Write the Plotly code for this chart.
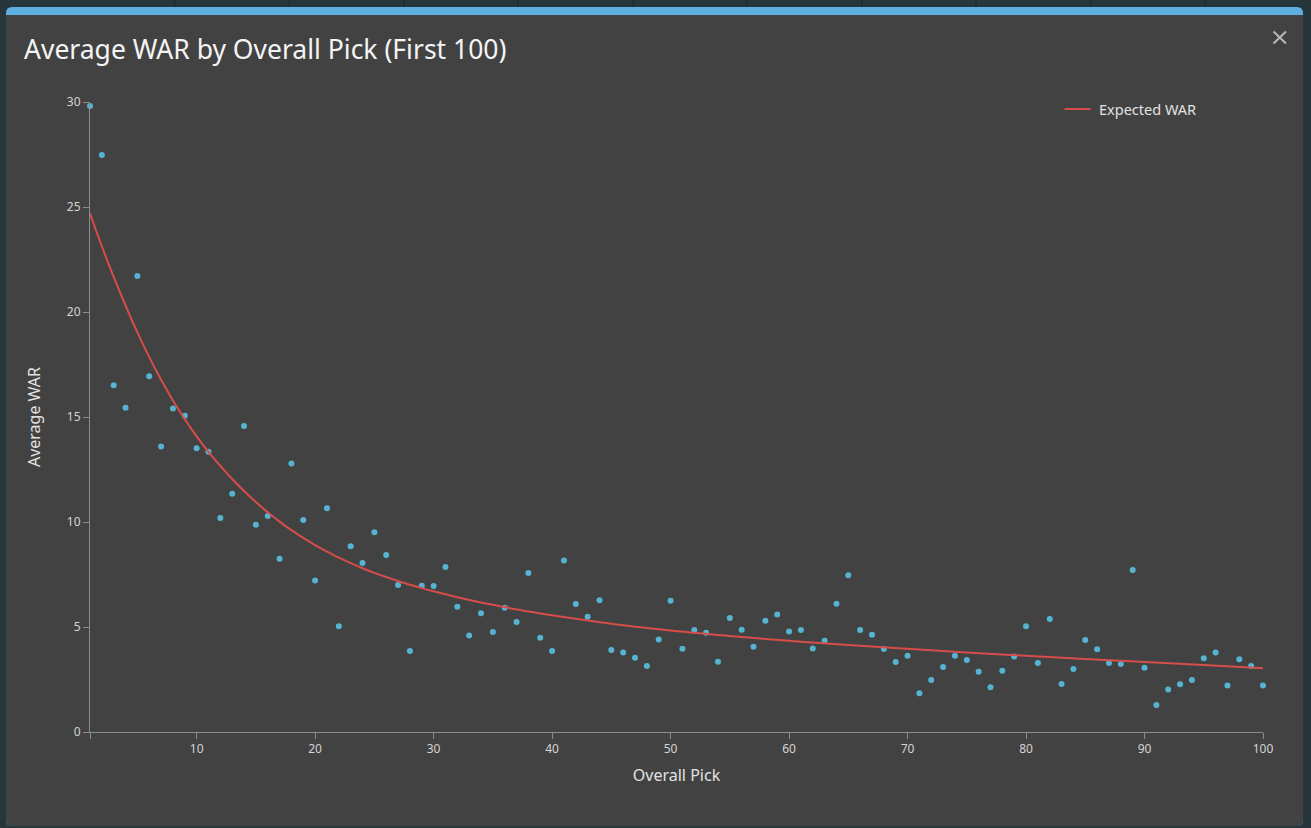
import plotly.graph_objects as go

# ---------------- data ----------------
picks = list(range(1, 101))
avg_war = [
    29.81, 27.48, 16.51, 15.44, 21.71, 16.94, 13.59, 15.41, 15.06, 13.51,
    13.35, 10.19, 11.35, 14.57, 9.87, 10.29, 8.25, 12.79, 10.10, 7.22,
    10.65, 5.03, 8.84, 8.05, 9.51, 8.43, 7.00, 3.86, 6.97, 6.95,
    7.86, 5.97, 4.59, 5.65, 4.76, 5.92, 5.24, 7.57, 4.49, 3.86,
    8.17, 6.10, 5.49, 6.27, 3.90, 3.79, 3.54, 3.14, 4.41, 6.25,
    3.97, 4.86, 4.73, 3.35, 5.43, 4.87, 4.06, 5.30, 5.59, 4.79,
    4.86, 3.98, 4.35, 6.11, 7.46, 4.86, 4.63, 3.95, 3.33, 3.63,
    1.84, 2.48, 3.10, 3.63, 3.43, 2.87, 2.13, 2.92, 3.59, 5.03,
    3.29, 5.38, 2.29, 3.00, 4.38, 3.94, 3.29, 3.24, 7.71, 3.06,
    1.29, 2.02, 2.27, 2.48, 3.51, 3.79, 2.22, 3.46, 3.14, 2.22,
]

expected_picks = [1, 2, 3, 4, 5, 6, 7, 8, 9, 10, 11, 12, 13, 14, 15, 16, 17, 18,
                  19, 20, 21, 22, 23, 24, 25, 26, 27, 28, 29, 30, 32, 34, 36,
                  38, 40, 45, 50, 55, 60, 65, 70, 75, 80, 85, 90, 95, 100]
expected_war = [24.70, 23.13, 21.67, 20.31, 19.03, 17.85, 16.77, 15.79, 14.89,
                14.08, 13.34, 12.67, 12.05, 11.48, 10.95, 10.46, 10.02, 9.61,
                9.24, 8.90, 8.59, 8.30, 8.04, 7.80, 7.58, 7.38, 7.19, 7.01,
                6.85, 6.70, 6.42, 6.17, 5.95, 5.74, 5.56, 5.16, 4.83, 4.57,
                4.34, 4.14, 3.96, 3.79, 3.63, 3.48, 3.33, 3.19, 3.04]

x_ticks = [1, 10, 20, 30, 40, 50, 60, 70, 80, 90, 100]
x_tick_text = ["", "10", "20", "30", "40", "50", "60", "70", "80", "90", "100"]
y_ticks = [0, 5, 10, 15, 20, 25, 30]

title_text = "Average WAR by Overall Pick (First 100)"
legend_text = "Expected WAR"
x_title = "Overall Pick"
y_title = "Average WAR"

# ---------------- layout geometry ----------------
W, H = 1311, 828
ML, MR, MT, MB = 90, 48, 102, 96
PW, PH = W - ML - MR, H - MT - MB


def px(x):
    return (x - ML) / PW


def py(y):
    return (H - MB - y) / PH


def rounded(x0, y0, x1, y1, r_top, r_bot):
    pts = []
    pts.append(f"M{px(x0 + r_top)},{py(y0)}")
    pts.append(f"L{px(x1 - r_top)},{py(y0)}")
    pts.append(f"Q{px(x1)},{py(y0)} {px(x1)},{py(y0 + r_top)}")
    pts.append(f"L{px(x1)},{py(y1 - r_bot)}")
    pts.append(f"Q{px(x1)},{py(y1)} {px(x1 - r_bot)},{py(y1)}")
    pts.append(f"L{px(x0 + r_bot)},{py(y1)}")
    pts.append(f"Q{px(x0)},{py(y1)} {px(x0)},{py(y1 - r_bot)}")
    pts.append(f"L{px(x0)},{py(y0 + r_top)}")
    pts.append(f"Q{px(x0)},{py(y0)} {px(x0 + r_top)},{py(y0)}")
    pts.append("Z")
    return " ".join(pts)


FONT = "Noto Sans"
BG = "#27363a"
PANEL = "#424242"
BLUE = "#5eaee0"
AXIS = "#8c8c8c"
DOT = "#56b4d3"
RED = "#d64d4a"

shapes = []
# tab separators in the strip above the panel
for sx in [175, 289.5, 404, 518, 633, 747, 862, 976, 1091, 1205]:
    shapes.append(dict(type="line", xref="paper", yref="paper",
                       x0=px(sx), x1=px(sx), y0=py(0), y1=py(7),
                       line=dict(color="#1d292c", width=1), layer="below"))
# panel with blue top strip
shapes.append(dict(type="path", xref="paper", yref="paper",
                   path=rounded(6, 7, 1303, 826, 6, 6),
                   fillcolor=BLUE, line=dict(width=0), layer="below"))
shapes.append(dict(type="path", xref="paper", yref="paper",
                   path=rounded(6, 15, 1303, 826, 0, 6),
                   fillcolor=PANEL, line=dict(width=0), layer="below"))
# close icon
shapes.append(dict(type="line", xref="paper", yref="paper",
                   x0=px(1273.5), y0=py(31.5), x1=px(1286), y1=py(43.5),
                   line=dict(color="#b9b9b9", width=2)))
shapes.append(dict(type="line", xref="paper", yref="paper",
                   x0=px(1273.5), y0=py(43.5), x1=px(1286), y1=py(31.5),
                   line=dict(color="#b9b9b9", width=2)))
# legend sample line
shapes.append(dict(type="line", xref="paper", yref="paper",
                   x0=px(1064.5), y0=py(109), x1=px(1090.5), y1=py(109),
                   line=dict(color=RED, width=2)))

annotations = [
    dict(text=title_text, xref="paper", yref="paper", x=px(22), y=py(49),
         xanchor="left", yanchor="middle", showarrow=False,
         font=dict(family=FONT, size=26.5, color="#f4f4f4")),
    dict(text=legend_text, xref="paper", yref="paper", x=px(1097), y=py(109),
         xanchor="left", yanchor="middle", showarrow=False,
         font=dict(family=FONT, size=14.5, color="#e2e2e2")),
]

fig = go.Figure()
fig.add_trace(go.Scatter(
    x=picks, y=avg_war, mode="markers", name="Average WAR",
    marker=dict(color=DOT, size=6, line=dict(width=0)),
    cliponaxis=False, showlegend=False,
))
fig.add_trace(go.Scatter(
    x=expected_picks, y=expected_war, mode="lines", name=legend_text,
    line=dict(color=RED, width=2, shape="spline", smoothing=1.0),
    cliponaxis=False, showlegend=False,
))

fig.update_layout(
    width=W, height=H,
    margin=dict(l=ML, r=MR, t=MT, b=MB, pad=0),
    paper_bgcolor=BG, plot_bgcolor="rgba(0,0,0,0)",
    font=dict(family=FONT, color="#d6d6d6"),
    shapes=shapes, annotations=annotations,
    showlegend=False,
    xaxis=dict(
        range=[1, 100], tickmode="array", tickvals=x_ticks, ticktext=x_tick_text,
        showgrid=False, zeroline=False, showline=True, linecolor=AXIS, linewidth=1,
        ticks="outside", ticklen=6, tickcolor=AXIS, tickwidth=1,
        tickfont=dict(family=FONT, size=12, color="#d4d4d4"),
        title=dict(text=x_title, standoff=13,
                   font=dict(family=FONT, size=16, color="#e2e2e2")),
        fixedrange=True,
    ),
    yaxis=dict(
        range=[0, 30], tickmode="array", tickvals=y_ticks,
        showgrid=False, zeroline=False, showline=True, linecolor=AXIS, linewidth=1,
        ticks="outside", ticklen=6, tickcolor=AXIS, tickwidth=1,
        tickfont=dict(family=FONT, size=12, color="#d4d4d4"),
        title=dict(text=y_title, standoff=22,
                   font=dict(family=FONT, size=16, color="#e2e2e2")),
        fixedrange=True,
    ),
)

fig.write_html("out.html", config={"displayModeBar": False})
